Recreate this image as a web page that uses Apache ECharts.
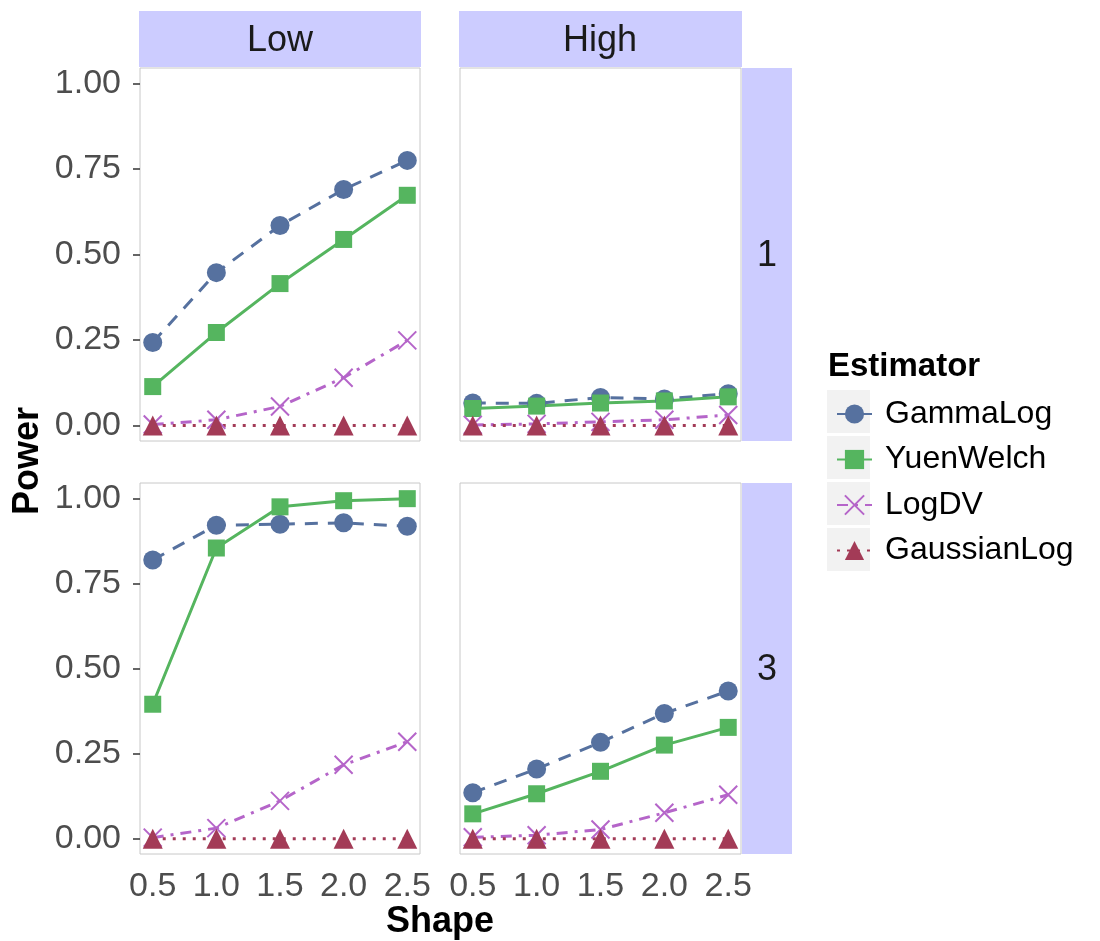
<!DOCTYPE html>
<html><head><meta charset="utf-8">
<script src="https://cdn.jsdelivr.net/npm/echarts@6/dist/echarts.min.js"></script>
<style>html,body{margin:0;padding:0;background:#fff}#c{width:1100px;height:941px}</style>
</head><body><div id="c"></div>
<script>
// ---- data ----
const shapes = [0.5, 1.0, 1.5, 2.0, 2.5];
const estimators = ['GammaLog', 'YuenWelch', 'LogDV', 'GaussianLog'];
const colTitles = ['Low', 'High'];
const rowTitles = ['1', '3'];
const xTicks = [0.5, 1.0, 1.5, 2.0, 2.5];
const yTicks = [0, 0.25, 0.5, 0.75, 1.0];

// Low, row 1
const gammaLow1 = [0.243, 0.447, 0.585, 0.690, 0.775];
const yuenLow1  = [0.114, 0.272, 0.415, 0.544, 0.673];
const logdvLow1 = [0.003, 0.017, 0.056, 0.140, 0.249];
const gaussLow1 = [0.000, 0.000, 0.000, 0.000, 0.000];
// High, row 1
const gammaHigh1 = [0.066, 0.065, 0.082, 0.078, 0.093];
const yuenHigh1  = [0.050, 0.057, 0.066, 0.072, 0.084];
const logdvHigh1 = [0.002, 0.005, 0.011, 0.017, 0.031];
const gaussHigh1 = [0.000, 0.000, 0.000, 0.000, 0.000];
// Low, row 3
const gammaLow3 = [0.819, 0.921, 0.924, 0.928, 0.918];
const yuenLow3  = [0.395, 0.854, 0.975, 0.993, 0.999];
const logdvLow3 = [0.003, 0.031, 0.111, 0.217, 0.285];
const gaussLow3 = [0.000, 0.000, 0.000, 0.000, 0.000];
// High, row 3
const gammaHigh3 = [0.135, 0.205, 0.283, 0.368, 0.434];
const yuenHigh3  = [0.073, 0.132, 0.198, 0.275, 0.327];
const logdvHigh3 = [0.004, 0.010, 0.027, 0.076, 0.129];
const gaussHigh3 = [0.000, 0.000, 0.000, 0.000, 0.000];

const panelData = [
  [gammaLow1, yuenLow1, logdvLow1, gaussLow1],
  [gammaHigh1, yuenHigh1, logdvHigh1, gaussHigh1],
  [gammaLow3, yuenLow3, logdvLow3, gaussLow3],
  [gammaHigh3, yuenHigh3, logdvHigh3, gaussHigh3]
];

// ---- styles ----
const FONT = "'Liberation Sans', Arial, Helvetica, sans-serif";
const colors = ['#56719F', '#55B55F', '#B565C9', '#A33B57'];
const symbols = ['circle', 'rect', 'path://M0,0L10,10M10,0L0,10', 'triangle'];
const symbolSizes = [19, 17, 18, 20];
const dashes = [[13, 10], 'solid', [11, 7, 3, 7], [3, 7]];

const grids = [
  {left: 140, top: 68, width: 280, height: 373},
  {left: 460, top: 68, width: 281, height: 373},
  {left: 140, top: 483, width: 280, height: 371},
  {left: 460, top: 483, width: 281, height: 371}
].map(g => Object.assign(g, {show: true, borderColor: '#C8C8C8', borderWidth: 1, backgroundColor: '#fff'}));

const xAxes = grids.map((g, i) => ({
  type: 'value', gridIndex: i, min: 0.4, max: 2.6,
  axisLine: {show: false},
  splitLine: {show: false},
  axisTick: {show: i >= 2, length: 7, lineStyle: {color: '#333', width: 1.5}, customValues: xTicks},
  axisLabel: {show: i >= 2, customValues: xTicks, margin: 16, fontSize: 34, color: '#4D4D4D', fontFamily: FONT,
    formatter: v => v.toFixed(1)}
}));
const yAxes = grids.map((g, i) => ({
  type: 'value', gridIndex: i, min: -0.045, max: 1.045,
  axisLine: {show: false},
  splitLine: {show: false},
  axisTick: {show: i % 2 === 0, length: 7, lineStyle: {color: '#333', width: 1.5}, customValues: yTicks},
  axisLabel: {show: i % 2 === 0, customValues: yTicks, margin: 19, fontSize: 34, color: '#4D4D4D', fontFamily: FONT,
    formatter: v => v.toFixed(2)}
}));

const series = [];
panelData.forEach((arrs, p) => {
  arrs.forEach((vals, e) => {
    series.push({
      type: 'line', name: estimators[e], xAxisIndex: p, yAxisIndex: p,
      data: shapes.map((x, k) => [x, vals[k]]),
      symbol: symbols[e], symbolSize: symbolSizes[e],
      lineStyle: {color: colors[e], width: 3, type: dashes[e], cap: 'butt'},
      itemStyle: e === 2 ? {color: colors[e], borderColor: colors[e], borderWidth: 2}
                         : {color: colors[e], borderWidth: 0},
      showAllSymbol: true,
      emphasis: {disabled: true},
      silent: true,
      z: 2
    });
  });
});

const STRIP = '#CCCCFF';
const graphics = [
  {type: 'rect', shape: {x: 139, y: 11, width: 282, height: 56}, style: {fill: STRIP}},
  {type: 'rect', shape: {x: 459, y: 11, width: 283, height: 56}, style: {fill: STRIP}},
  {type: 'rect', shape: {x: 742, y: 68, width: 50, height: 373}, style: {fill: STRIP}},
  {type: 'rect', shape: {x: 742, y: 483, width: 50, height: 371}, style: {fill: STRIP}},
  {type: 'text', x: 280, y: 41, style: {text: colTitles[0], font: '36px ' + FONT, fill: '#1A1A1A', align: 'center', verticalAlign: 'middle'}},
  {type: 'text', x: 600, y: 41, style: {text: colTitles[1], font: '36px ' + FONT, fill: '#1A1A1A', align: 'center', verticalAlign: 'middle'}},
  {type: 'text', x: 767, y: 256, style: {text: rowTitles[0], font: '36px ' + FONT, fill: '#1A1A1A', align: 'center', verticalAlign: 'middle'}},
  {type: 'text', x: 767, y: 670, style: {text: rowTitles[1], font: '36px ' + FONT, fill: '#1A1A1A', align: 'center', verticalAlign: 'middle'}},
  {type: 'text', x: 440, y: 922, style: {text: 'Shape', font: 'bold 36px ' + FONT, fill: '#000', align: 'center', verticalAlign: 'middle'}},
  {type: 'text', x: 28, y: 461, rotation: Math.PI / 2, style: {text: 'Power', font: 'bold 36px ' + FONT, fill: '#000', align: 'center', verticalAlign: 'middle'}},
  {type: 'text', x: 828, y: 367, style: {text: 'Estimator', font: 'bold 33px ' + FONT, fill: '#000', align: 'left', verticalAlign: 'middle'}}
];
estimators.forEach((e, i) => {
  graphics.push({type: 'rect', z: 0, shape: {x: 827, y: 390 + 46 * i, width: 43, height: 43}, style: {fill: '#F2F2F2'}});
});

const chart = echarts.init(document.getElementById('c'), null, {renderer: 'canvas'});
chart.setOption({
  animation: false,
  backgroundColor: '#fff',
  textStyle: {fontFamily: FONT},
  grid: grids,
  xAxis: xAxes,
  yAxis: yAxes,
  series: series,
  graphic: graphics,
  legend: {
    data: estimators, orient: 'vertical', left: 831, top: 393,
    itemWidth: 35, itemHeight: 24, itemGap: 13.5,
    selectedMode: false,
    textStyle: {fontSize: 32, color: '#000', fontFamily: FONT, padding: [0, 0, 0, 8]},
    z: 5
  }
});
</script></body></html>
